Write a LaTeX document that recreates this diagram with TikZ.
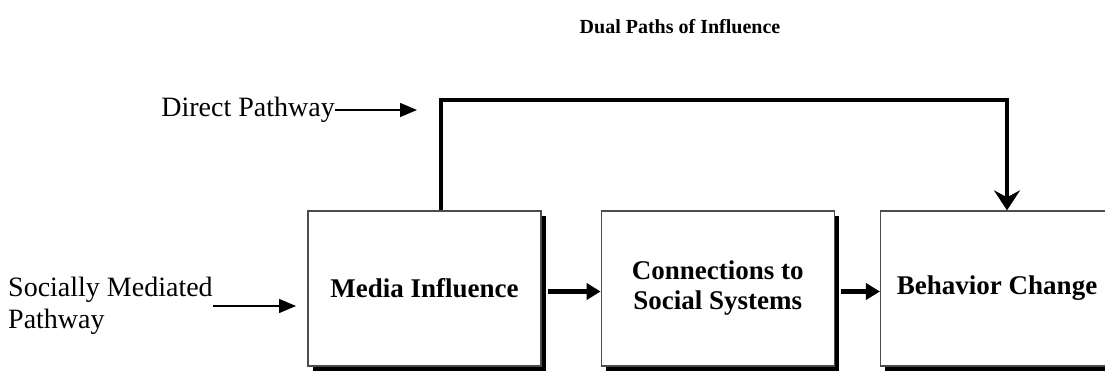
\documentclass[tikz,border=0pt]{standalone}
\usepackage{fontspec}
\setmainfont{Liberation Serif}
\usetikzlibrary{positioning, arrows.meta, shadows}
\tikzset{
  box/.style={draw=black!70, line width=1.3pt, fill=white, minimum width=233pt, minimum height=155pt,
    align=center, font=\bfseries\fontsize{27}{30}\selectfont,
    drop shadow={opacity=1, fill=black, shadow xshift=4.5pt, shadow yshift=-4.5pt}},
  flow/.style={line width=4.5pt, -{Triangle[width=16pt,length=14pt]}},
  pathline/.style={line width=4.5pt, -{Stealth[width=26pt,length=20pt,inset=7pt]}},
  pointer/.style={line width=1.4pt, -{Triangle[width=14pt,length=17pt]}},
  sidetext/.style={font=\fontsize{28}{32}\selectfont, inner sep=0pt, align=left}
}

\begin{document}
\begin{tikzpicture}[x=1pt,y=1pt]
\useasboundingbox (0,0) rectangle (1105,-374);
\clip (0,0) rectangle (1105,-374);

\node[font=\bfseries\fontsize{20}{24}\selectfont] (title) at (680,-27) {Dual Paths of Influence};

\node[box] (media) at (424.5,-288.5) {Media Influence};
\node[box, right=59pt of media] (connect) {Connections to\\Social Systems};
\node[box, right=45pt of connect] (behavior) {Behavior Change};

\node[sidetext, anchor=east] (direct) at (335,-110) {Direct Pathway};
\node[sidetext, anchor=west] (social) at (8,-306) {Socially Mediated\\Pathway};
\coordinate (dptip) at (417,-114);
\coordinate (smtip) at (296,-307);
\coordinate (dpcorner) at (441,-100);
\coordinate (dpturn) at (1007,-100);

% labels
\draw[pointer] (direct.east) -- (direct.east -| dptip);
\draw[pointer] (social.east) -- (social.east -| smtip);

% the two paths
\draw[pathline] (media.north -| dpcorner) -- (dpcorner) -- (dpturn) -- (dpturn |- behavior.north);
\draw[flow] ([xshift=6pt,yshift=-3pt]media.east) -- ([yshift=-3pt]connect.west);
\draw[flow] ([xshift=6pt,yshift=-3pt]connect.east) -- ([yshift=-3pt]behavior.west);

\end{tikzpicture}
\end{document}
